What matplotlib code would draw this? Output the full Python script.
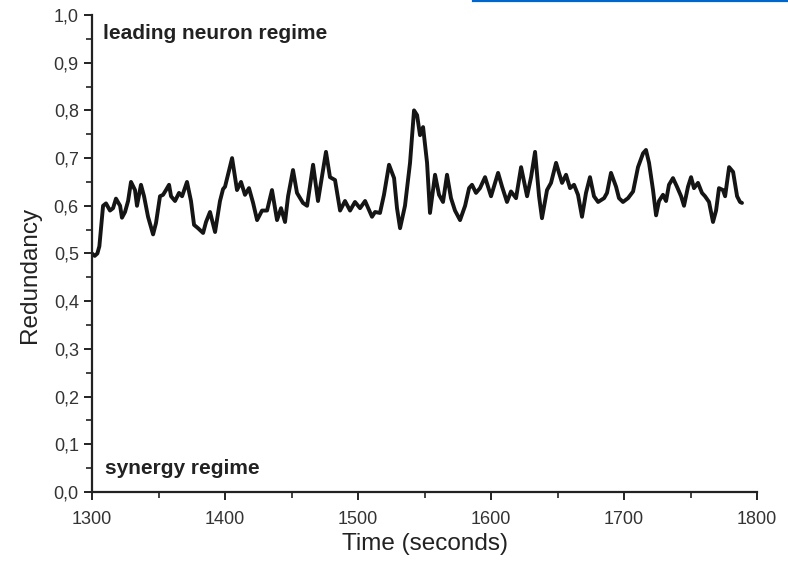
import matplotlib.pyplot as plt
from matplotlib.lines import Line2D
from matplotlib.ticker import MultipleLocator, FuncFormatter

# --- data ---
time = [1300.0, 1302.0, 1304.0, 1305.5, 1308.3, 1310.5, 1313.5, 1315.8, 1318.0, 1321.1,
        1322.5, 1324.8, 1327.1, 1329.3, 1332.3, 1333.8, 1336.8, 1339.1, 1342.1, 1345.9,
        1348.1, 1351.1, 1353.4, 1355.6, 1357.9, 1359.4, 1362.4, 1365.4, 1367.7, 1371.4,
        1374.4, 1376.7, 1379.7, 1383.5, 1385.7, 1388.7, 1392.5, 1396.2, 1398.5, 1400.0,
        1405.3, 1409.0, 1412.0, 1415.0, 1418.0, 1421.1, 1424.1, 1427.8, 1431.6, 1435.3,
        1439.1, 1442.1, 1445.1, 1447.4, 1451.1, 1454.1, 1458.6, 1461.7, 1466.2, 1469.9,
        1475.9, 1478.9, 1482.7, 1486.5, 1490.2, 1494.0, 1497.7, 1501.5, 1505.3, 1510.5,
        1512.8, 1516.5, 1519.5, 1523.3, 1527.1, 1529.3, 1531.6, 1535.3, 1539.1, 1542.1,
        1544.4, 1546.6, 1548.9, 1551.9, 1554.1, 1557.9, 1560.9, 1563.9, 1566.9, 1569.9,
        1572.9, 1576.7, 1580.5, 1583.5, 1585.7, 1588.7, 1591.7, 1595.5, 1600.0, 1605.3,
        1608.3, 1612.0, 1615.0, 1618.8, 1622.6, 1627.1, 1630.1, 1633.1, 1636.1, 1638.3,
        1642.1, 1645.1, 1648.9, 1651.1, 1653.4, 1656.4, 1659.4, 1662.4, 1665.4, 1668.4,
        1671.4, 1674.4, 1677.4, 1680.5, 1685.0, 1687.2, 1690.2, 1694.0, 1696.2, 1699.2,
        1703.0, 1706.8, 1710.5, 1714.3, 1716.5, 1718.8, 1721.8, 1724.1, 1726.3, 1729.3,
        1731.6, 1733.8, 1736.8, 1739.8, 1742.9, 1745.1, 1748.1, 1750.4, 1752.6, 1755.6,
        1758.6, 1760.9, 1763.9, 1766.9, 1769.2, 1771.4, 1774.4, 1776.0, 1779.0, 1782.0,
        1785.0, 1787.2, 1788.7]
redundancy = [0.500, 0.495, 0.500, 0.515, 0.600, 0.605, 0.590, 0.595, 0.615, 0.600,
              0.575, 0.587, 0.610, 0.650, 0.633, 0.600, 0.644, 0.620, 0.577, 0.540,
              0.564, 0.620, 0.623, 0.633, 0.644, 0.620, 0.610, 0.627, 0.620, 0.650,
              0.610, 0.560, 0.553, 0.543, 0.566, 0.587, 0.545, 0.610, 0.635, 0.640,
              0.700, 0.633, 0.650, 0.623, 0.637, 0.606, 0.570, 0.590, 0.590, 0.633,
              0.570, 0.595, 0.566, 0.620, 0.675, 0.627, 0.606, 0.600, 0.686, 0.610,
              0.713, 0.660, 0.654, 0.590, 0.610, 0.590, 0.608, 0.595, 0.610, 0.577,
              0.587, 0.585, 0.623, 0.686, 0.658, 0.595, 0.553, 0.600, 0.690, 0.800,
              0.790, 0.748, 0.765, 0.690, 0.585, 0.665, 0.623, 0.608, 0.665, 0.616,
              0.590, 0.570, 0.600, 0.637, 0.644, 0.627, 0.637, 0.660, 0.620, 0.669,
              0.640, 0.608, 0.630, 0.616, 0.681, 0.620, 0.660, 0.713, 0.620, 0.574,
              0.633, 0.648, 0.690, 0.669, 0.648, 0.665, 0.637, 0.644, 0.623, 0.577,
              0.627, 0.660, 0.620, 0.608, 0.616, 0.627, 0.669, 0.640, 0.616, 0.608,
              0.616, 0.630, 0.681, 0.710, 0.717, 0.690, 0.633, 0.580, 0.610, 0.623,
              0.610, 0.644, 0.658, 0.640, 0.620, 0.600, 0.640, 0.660, 0.637, 0.648,
              0.627, 0.620, 0.608, 0.566, 0.590, 0.637, 0.633, 0.620, 0.681, 0.671,
              0.620, 0.608, 0.606]

plt.rcParams['font.family'] = ['Liberation Sans', 'DejaVu Sans']

fig = plt.figure(figsize=(7.88, 5.63), dpi=100)
ax = fig.add_axes([0.1168, 0.1261, 0.8439, 0.8473])

ax.plot(time, redundancy, color='#151515', lw=2.8,
        solid_joinstyle='round', solid_capstyle='round')

ax.set_xlim(1300, 1800)
ax.set_ylim(0, 1.0)
ax.xaxis.set_major_locator(MultipleLocator(100))
ax.xaxis.set_minor_locator(MultipleLocator(50))
ax.yaxis.set_major_locator(MultipleLocator(0.1))
ax.yaxis.set_minor_locator(MultipleLocator(0.05))
ax.yaxis.set_major_formatter(FuncFormatter(lambda v, p: f'{v:.1f}'.replace('.', ',')))

for side in ('top', 'right'):
    ax.spines[side].set_visible(False)
for side in ('left', 'bottom'):
    ax.spines[side].set_linewidth(1.6)
    ax.spines[side].set_color('#222222')

ax.tick_params(which='major', direction='out', length=6, width=1.4,
               labelsize=13, colors='#222222', labelcolor='#333333')
ax.tick_params(which='minor', direction='out', length=4, width=1.2, colors='#222222')
ax.tick_params(axis='x', pad=8)

ax.set_xlabel('Time (seconds)', fontsize=17.5, color='#222222', labelpad=3)
ax.set_ylabel('Redundancy', fontsize=17.5, color='#222222')
ax.yaxis.set_label_coords(-0.077, 0.455)

ax.text(1308, 0.962, 'leading neuron regime', fontsize=15, fontweight='bold',
        color='#222222', va='center', ha='left')
ax.text(1309.5, 0.05, 'synergy regime', fontsize=15, fontweight='bold',
        color='#222222', va='center', ha='left')

# blue rule at top edge of the page
fig.add_artist(Line2D([473 / 788, 1.0], [0.999, 0.999], transform=fig.transFigure,
                      color='#0066cc', lw=1.6))

fig.savefig('out.png', dpi=100)
